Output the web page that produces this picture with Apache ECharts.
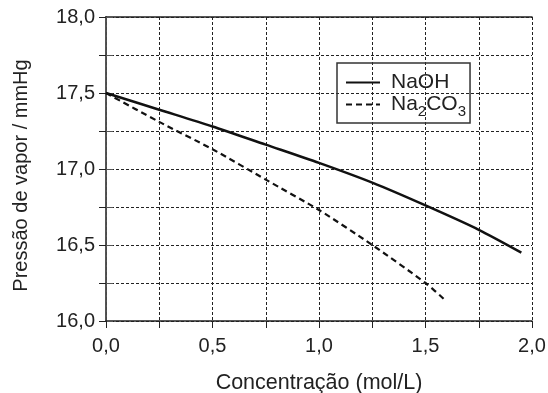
<!DOCTYPE html>
<html>
<head>
<meta charset="utf-8">
<script src="https://cdn.jsdelivr.net/npm/echarts@6/dist/echarts.min.js"></script>
<style>
  html, body { margin: 0; padding: 0; background: #fff; }
  #chart { width: 548px; height: 393px; }
</style>
</head>
<body>
<div id="chart"></div>
<script>
// dados
const concNaOH = [0, 0.25, 0.5, 0.75, 1.0, 1.25, 1.5, 1.75, 1.95];
const presNaOH = [17.5, 17.39, 17.28, 17.16, 17.04, 16.91, 16.76, 16.6, 16.45];
const concNa2CO3 = [0, 0.25, 0.5, 0.75, 1.0, 1.25, 1.5, 1.59];
const presNa2CO3 = [17.5, 17.31, 17.13, 16.93, 16.73, 16.5, 16.25, 16.14];
const seriesNames = ["NaOH", "Na2CO3"];

const font = "Liberation Sans, Arial, sans-serif";
const fmt = (v) => (Math.abs(v * 2 - Math.round(v * 2)) < 1e-6 ? v.toFixed(1).replace(".", ",") : "");

const chart = echarts.init(document.getElementById("chart"), null, { renderer: "canvas" });

chart.setOption({
  animation: false,
  grid: { left: 106, right: 16, top: 17, bottom: 72, outerBoundsMode: "none", containLabel: false },
  legend: {
    orient: "vertical",
    left: 337,
    top: 63,
    padding: [9, 4, 4, 8],
    itemGap: -3,
    itemWidth: 34,
    itemHeight: 14,
    borderColor: "#333",
    borderWidth: 1.5,
    itemStyle: { opacity: 0 },
    data: seriesNames,
    formatter: (n) => (n === "Na2CO3" ? "{f|Na}{sub|2}{t|CO}{sub|3}" : "{f|" + n + "}"),
    textStyle: {
      fontFamily: font,
      fontSize: 21,
      color: "#222",
      rich: {
        f: { fontFamily: font, fontSize: 21, color: "#222", lineHeight: 24, padding: [0, 0, 0, 6] },
        t: { fontFamily: font, fontSize: 21, color: "#222", lineHeight: 24 },
        sub: { fontFamily: font, fontSize: 15, color: "#222", lineHeight: 15, padding: [14, 0, 0, 0] }
      }
    }
  },
  xAxis: [
    {
      type: "value",
      min: 0,
      max: 2,
      interval: 0.25,
      name: "Concentração (mol/L)",
      nameLocation: "middle",
      nameGap: 51,
      nameTextStyle: { fontFamily: font, fontSize: 21.5, color: "#222" },
      axisLine: { lineStyle: { color: "#222", width: 1.5 } },
      axisTick: { length: 7, lineStyle: { color: "#222" } },
      axisLabel: { formatter: fmt, fontFamily: font, fontSize: 20, color: "#222", margin: 15 },
      splitLine: { show: true, lineStyle: { color: "#222", type: [3, 2], width: 1 } }
    },
    {
      type: "value",
      position: "top",
      min: 0,
      max: 2,
      interval: 0.25,
      axisLine: { show: true, lineStyle: { color: "#222", width: 1.5 } },
      axisTick: { show: false },
      axisLabel: { show: false },
      splitLine: { show: false }
    }
  ],
  yAxis: [
    {
      type: "value",
      min: 16,
      max: 18,
      interval: 0.25,
      name: "Pressão de vapor / mmHg",
      nameLocation: "middle",
      nameGap: 75,
      nameTextStyle: { fontFamily: font, fontSize: 20, color: "#222", padding: [0, 13, 0, 0] },
      axisLine: { show: true, lineStyle: { color: "#222", width: 1.5 } },
      axisTick: { show: true, length: 7, lineStyle: { color: "#222" } },
      axisLabel: { formatter: fmt, fontFamily: font, fontSize: 20, color: "#222", margin: 11 },
      splitLine: { show: true, lineStyle: { color: "#222", type: [3, 2], width: 1 } }
    },
    {
      type: "value",
      position: "right",
      min: 16,
      max: 18,
      interval: 0.25,
      axisLine: { show: true, lineStyle: { color: "#555", width: 1.5 } },
      axisTick: { show: true, length: 7, lineStyle: { color: "#555" } },
      axisLabel: { show: false },
      splitLine: { show: false }
    }
  ],
  series: [
    {
      name: "NaOH",
      type: "line",
      smooth: 0.25,
      symbol: "none",
      data: concNaOH.map((c, i) => [c, presNaOH[i]]),
      lineStyle: { color: "#111", width: 2.5, type: "solid" },
      itemStyle: { color: "#111" }
    },
    {
      name: "Na2CO3",
      type: "line",
      smooth: 0.25,
      symbol: "none",
      data: concNa2CO3.map((c, i) => [c, presNa2CO3[i]]),
      lineStyle: { color: "#111", width: 2.2, type: [6, 4] },
      itemStyle: { color: "#111" }
    }
  ]
});
</script>
</body>
</html>
